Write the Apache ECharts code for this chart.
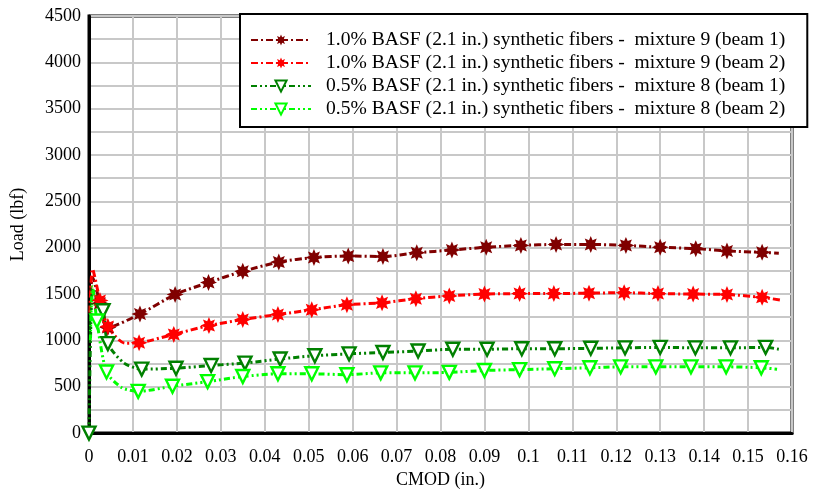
<!DOCTYPE html>
<html><head><meta charset="utf-8">
<script src="https://cdn.jsdelivr.net/npm/echarts@6/dist/echarts.min.js"></script>
<style>html,body{margin:0;padding:0;background:#fff}#c{width:819px;height:494px}</style>
</head><body><div id="c"></div>
<script>
// ---- data ----
const seriesNames = [
  '1.0% BASF (2.1 in.) synthetic fibers -  mixture 9 (beam 1)',
  '1.0% BASF (2.1 in.) synthetic fibers -  mixture 9 (beam 2)',
  '0.5% BASF (2.1 in.) synthetic fibers -  mixture 8 (beam 1)',
  '0.5% BASF (2.1 in.) synthetic fibers -  mixture 8 (beam 2)'
];
const s1x = [0.0003, 0.0008, 0.0025, 0.0043, 0.0116, 0.0196, 0.0272, 0.035, 0.0432, 0.0512, 0.059, 0.0669, 0.0746, 0.0826, 0.0904, 0.0983, 0.1063, 0.1142, 0.1222, 0.130, 0.1381, 0.1452, 0.1532, 0.157];
const s1y = [1500, 1680, 1400, 1140, 1285, 1495, 1625, 1745, 1845, 1895, 1910, 1905, 1945, 1975, 2005, 2025, 2035, 2035, 2025, 2005, 1990, 1965, 1950, 1940];
const s1noMark = [0, 1, 23];

const s2x = [0.0002, 0.0008, 0.0025, 0.0043, 0.0082, 0.0114, 0.0193, 0.0273, 0.035, 0.043, 0.0507, 0.0587, 0.0667, 0.0744, 0.082, 0.090, 0.098, 0.1058, 0.1138, 0.1218, 0.1295, 0.1375, 0.1452, 0.1532, 0.1573];
const s2y = [1300, 1770, 1430, 1150, 970, 975, 1065, 1160, 1225, 1280, 1330, 1385, 1405, 1450, 1480, 1500, 1505, 1505, 1510, 1515, 1505, 1500, 1495, 1465, 1435];
const s2noMark = [0, 1, 4, 24];

const s3x = [0, 0.0008, 0.0018, 0.0032, 0.0043, 0.008, 0.012, 0.0198, 0.0278, 0.0355, 0.0435, 0.0514, 0.0592, 0.0669, 0.0749, 0.0828, 0.0906, 0.0985, 0.106, 0.1142, 0.122, 0.130, 0.138, 0.146, 0.154, 0.157];
const s3y = [0, 1560, 1450, 1320, 965, 755, 690, 700, 730, 755, 800, 835, 855, 870, 885, 905, 905, 910, 910, 915, 920, 925, 920, 920, 925, 905];
const s3noMark = [1, 2, 5, 25];

const s4x = [0.0003, 0.0008, 0.0018, 0.004, 0.0075, 0.0112, 0.019, 0.027, 0.035, 0.043, 0.0507, 0.0587, 0.0664, 0.0742, 0.082, 0.090, 0.098, 0.106, 0.114, 0.121, 0.129, 0.137, 0.145, 0.153, 0.1566];
const s4y = [1000, 1580, 1210, 660, 490, 450, 505, 555, 610, 640, 640, 630, 650, 650, 655, 675, 685, 695, 705, 715, 715, 715, 715, 705, 690];
const s4noMark = [0, 1, 4, 24];

const xTicks = [0, 0.16, 0.01];
const yTicks = [0, 4500, 250, 500];

// ---- style ----
function starPath() {
  let d = '';
  for (let i = 0; i < 16; i++) {
    const a = i * Math.PI / 8 - Math.PI / 2;
    const r = i % 2 ? 5.5 : 10;
    const x = (10 + r * Math.cos(a)).toFixed(2), y = (10 + r * Math.sin(a)).toFixed(2);
    d += (i ? 'L' : 'M') + x + ' ' + y + ' ';
  }
  return 'path://' + d + 'Z';
}
const STAR = starPath();

function mk(xs, ys, noMark) {
  return xs.map((x, i) => noMark.includes(i) ? { value: [x, ys[i]], symbol: 'none' } : [x, ys[i]]);
}
function mkSeries(name, xs, ys, noMark, color, isStar, dash) {
  return {
    name, type: 'line', data: mk(xs, ys, noMark), smooth: 0.25,
    symbol: isStar ? STAR : 'triangle', symbolRotate: isStar ? 0 : 180,
    symbolSize: isStar ? 17 : 13,
    showAllSymbol: true,
    lineStyle: { color, width: 3, type: dash },
    itemStyle: isStar ? { color, borderColor: color, borderWidth: 0 } : { color: '#fff', borderColor: color, borderWidth: 2.4 },
    emphasis: { disabled: true },
    animation: false
  };
}
const FONT = 'Liberation Serif';
const chart = echarts.init(document.getElementById('c'), null, { renderer: 'canvas' });
chart.setOption({
  backgroundColor: '#fff',
  animation: false,
  grid: { left: 89, right: 27, top: 16, bottom: 59, show: true, borderColor: '#000', borderWidth: 3, containLabel: false },
  legend: {
    orient: 'vertical', left: 240, top: 14,
    padding: [16, 22, 8, 10], itemGap: 3, itemWidth: 60, itemHeight: 14,
    backgroundColor: '#fff', borderColor: '#000', borderWidth: 2,
    textStyle: { fontFamily: FONT, fontSize: 19.6, color: '#000', padding: [0, 0, 0, 10] },
    data: seriesNames
  },
  xAxis: {
    type: 'value', min: xTicks[0], max: xTicks[1], interval: xTicks[2],
    name: 'CMOD (in.)', nameLocation: 'middle', nameGap: 37,
    nameTextStyle: { fontFamily: FONT, fontSize: 18, color: '#000' },
    axisLine: { show: true, lineStyle: { color: '#000', width: 3 } },
    axisTick: { show: false },
    axisLabel: { fontFamily: FONT, fontSize: 18, color: '#000', margin: 15, formatter: v => String(parseFloat(v.toFixed(2))) },
    splitLine: { show: true, lineStyle: { color: '#c8c8c8', width: 2 } }
  },
  yAxis: {
    type: 'value', min: yTicks[0], max: yTicks[1], interval: yTicks[2],
    name: 'Load (lbf)', nameLocation: 'middle', nameGap: 62,
    nameTextStyle: { fontFamily: FONT, fontSize: 18, color: '#000' },
    axisLine: { show: true, lineStyle: { color: '#000', width: 3 } },
    axisTick: { show: false },
    axisLabel: { fontFamily: FONT, fontSize: 18, color: '#000', margin: 8, formatter: v => (v % yTicks[3] === 0 ? String(v) : '') },
    splitLine: { show: true, lineStyle: { color: '#c8c8c8', width: 2 } }
  },
  series: [
    mkSeries(seriesNames[0], s1x, s1y, s1noMark, '#800000', true, [7, 3, 2, 3]),
    mkSeries(seriesNames[1], s2x, s2y, s2noMark, '#ff0000', true, [7, 3, 2, 3]),
    mkSeries(seriesNames[2], s3x, s3y, s3noMark, '#008000', false, [6, 3, 2, 3, 2, 3]),
    mkSeries(seriesNames[3], s4x, s4y, s4noMark, '#00ff00', false, [6, 3, 2, 3, 2, 3])
  ]
});
</script></body></html>
